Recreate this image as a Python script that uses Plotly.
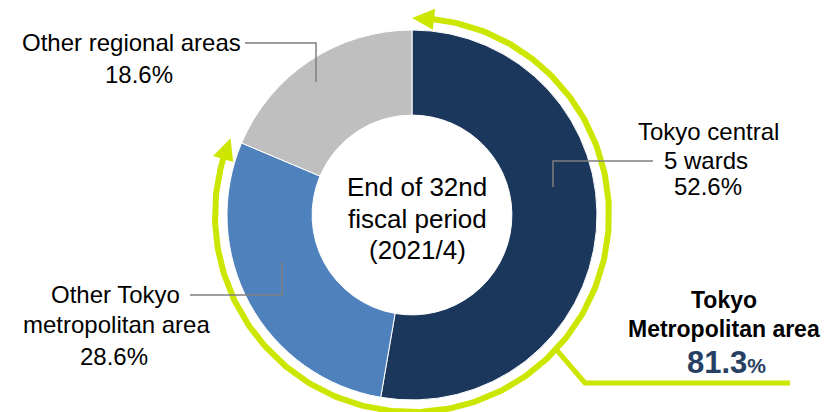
import numpy as np
import plotly.graph_objects as go

# ---- data ----
categories = ["Tokyo central 5 wards", "Other Tokyo metropolitan area", "Other regional areas"]
shares = [52.6, 28.6, 18.6]
slice_colors = ["#1B375C", "#4F81BD", "#BFBFBF"]
center_lines = ["End of 32nd", "fiscal period", "(2021/4)"]
tokyo_total_label = "81.3"

W, H = 839, 412
CX, CY, R = 412, 215, 185
LIME = "#CDE600"
GREY_LINE = "#7F7F7F"
FONT = "Liberation Sans, Arial, sans-serif"

fig = go.Figure()

fig.add_trace(go.Pie(
    labels=categories, values=shares, sort=False, direction="clockwise", rotation=0,
    hole=0.54, textinfo="none", hoverinfo="label+percent",
    marker=dict(colors=slice_colors, line=dict(color="white", width=1)),
    domain=dict(x=[(CX - R) / W, (CX + R) / W], y=[(H - CY - R) / H, (H - CY + R) / H]),
    showlegend=False,
))

# ---- arc with arrowheads around the Tokyo metropolitan share ----
tokyo_frac = (shares[0] + shares[1]) / sum(shares)
RA = 197
end_ang = 2 * np.pi * tokyo_frac
L, HW = 22, 10.5
dang = L / RA

def pt(a, r):
    return CX + r * np.sin(a), CY - r * np.cos(a)

ang = np.linspace(dang - 0.01, end_ang - dang + 0.01, 300)
ax_, ay_ = pt(ang, RA)
fig.add_trace(go.Scatter(x=ax_, y=ay_, mode="lines", line=dict(color=LIME, width=6),
                         hoverinfo="skip", showlegend=False))

def head(tip_a, base_a):
    tx, ty = pt(tip_a, RA)
    b1 = pt(base_a, RA - HW)
    b2 = pt(base_a, RA + HW)
    return [tx, b1[0], b2[0], tx], [ty, b1[1], b2[1], ty]

for tip_a, base_a in [(0.0, dang), (end_ang, end_ang - dang)]:
    hx, hy = head(tip_a, base_a)
    fig.add_trace(go.Scatter(x=hx, y=hy, mode="lines", fill="toself", fillcolor=LIME,
                             line=dict(color=LIME, width=0), hoverinfo="skip", showlegend=False))

# callout line from the arc
sx, sy = pt(np.deg2rad(133), RA)
fig.add_trace(go.Scatter(x=[sx, 585, 790], y=[sy, 383, 383], mode="lines",
                         line=dict(color=LIME, width=5), hoverinfo="skip", showlegend=False))

# leader lines (drawn above the pie)
shapes = []
for xs, ys in [([245, 316, 316], [43, 43, 82]),
               ([653, 553, 553], [161, 161, 187]),
               ([190, 282, 282], [295, 295, 262])]:
    path = "M " + " L ".join(f"{x},{y}" for x, y in zip(xs, ys))
    shapes.append(dict(type="path", path=path, xref="x", yref="y", layer="above",
                       line=dict(color=GREY_LINE, width=1.5)))

ann = []
def txt(x, y, t, size=24, color="#000000", bold=False):
    if bold:
        t = "<b>" + t + "</b>"
    ann.append(dict(x=x, y=y, xref="x", yref="y", text=t, showarrow=False,
                    xanchor="center", yanchor="middle",
                    font=dict(family=FONT, size=size, color=color)))

txt(131, 42, "Other regional areas")
txt(139, 74, f"{shares[2]}%")
txt(708, 131, "Tokyo central")
txt(706, 160, "5 wards")
txt(708, 186, f"{shares[0]}%")
txt(115, 294, "Other Tokyo")
txt(116, 324, "metropolitan area")
txt(114, 356, f"{shares[1]}%")
for i, line in enumerate(center_lines):
    txt(417, 187 + 31.5 * i, line, size=26)
txt(724, 300, "Tokyo", size=23, bold=True)
txt(724, 329, "Metropolitan area", size=23, bold=True)
ann.append(dict(x=726, y=362, xref="x", yref="y", showarrow=False, xanchor="center", yanchor="middle",
                text=f"<b>{tokyo_total_label}</b><b><span style='font-size:21px'>%</span></b>",
                font=dict(family=FONT, size=31, color="#263F62")))

fig.update_layout(
    width=W, height=H, margin=dict(l=0, r=0, t=0, b=0),
    paper_bgcolor="white", plot_bgcolor="rgba(0,0,0,0)",
    xaxis=dict(range=[0, W], visible=False, fixedrange=True, domain=[0, 1]),
    yaxis=dict(range=[H, 0], visible=False, fixedrange=True, domain=[0, 1]),
    annotations=ann, shapes=shapes,
)

fig.write_html("out.html")
